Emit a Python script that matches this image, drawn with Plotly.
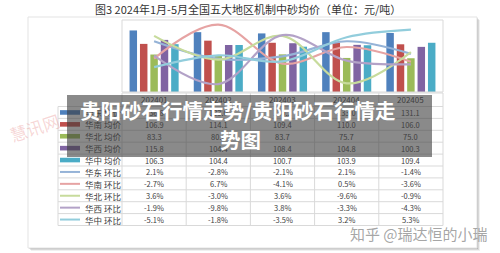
import plotly.graph_objects as go

# ---------------- data ----------------
categories = ["202401", "202402", "202403", "202404", "202405"]
regions = ["华东", "华南", "华北", "华西", "华中"]

avg_east = [136.8, 133.0, 130.2, 133.0, 131.1]
avg_south = [106.9, 114.1, 109.4, 110.0, 106.0]
avg_north = [83.3, 80.8, 83.7, 75.7, 75.0]
avg_west = [115.8, 104.4, 108.4, 104.8, 100.3]
avg_central = [106.3, 104.4, 100.7, 103.9, 109.4]

mom_east = [2.1, -2.8, -2.1, 2.1, -1.4]
mom_south = [-2.7, 6.7, -4.1, 0.5, -3.6]
mom_north = [3.6, -3.0, 3.6, -9.6, -0.9]
mom_west = [-1.9, -9.8, 3.8, -3.3, -4.3]
mom_central = [-5.1, -1.8, -3.5, 3.2, 5.3]

avg_series = [avg_east, avg_south, avg_north, avg_west, avg_central]
mom_series = [mom_east, mom_south, mom_north, mom_west, mom_central]

title_text = "图3 2024年1月-5月全国五大地区机制中砂均价（单位：元/吨）"
banner_line1 = "贵阳砂石行情走势/贵阳砂石行情走"
banner_line2 = "势图"
watermark = "知乎 @瑞达恒的小瑞"
watermark2 = "慧讯网"

bar_colors = ["#4F81BD", "#C0504D", "#9BBB59", "#8064A2", "#4BACC6"]
line_colors = ["#95B3D7", "#E6A3A3", "#C7DB9C", "#B3A2C7", "#92CDDC"]

W, H = 500, 253
def px(x):
    return x / W
def py(y):
    return 1 - y / H

# geometry (pixels)
PL, PR, PT, PB = 122, 443, 20, 92
COLW = (PR - PL) / len(categories)
TT = 93
HDR_B = 106.5
ROWH = 11.9
LEGL = 58

FONT = "Noto Sans CJK SC"

fig = go.Figure()

for name, vals, c in zip(regions, avg_series, bar_colors):
    fig.add_trace(go.Bar(x=categories, y=vals, name=name + " 均价", marker_color=c,
                         marker_line_width=0, yaxis="y"))
for name, vals, c in zip(regions, mom_series, line_colors):
    fig.add_trace(go.Scatter(x=categories, y=vals, name=name + " 环比", mode="lines",
                             line=dict(color=c, width=2.2, shape="spline", smoothing=1.0),
                             yaxis="y2"))

shapes = []
# chart box shadow + box
for off, col in [(3, "rgba(0,0,0,0.06)"), (2, "rgba(0,0,0,0.10)"), (1, "rgba(0,0,0,0.14)")]:
    shapes.append(dict(type="rect", xref="paper", yref="paper",
                       x0=px(28 + off), x1=px(477 + off), y0=py(248 + off), y1=py(17 + off),
                       fillcolor=col, line_width=0, layer="below"))
shapes.append(dict(type="rect", xref="paper", yref="paper",
                   x0=px(28), x1=px(477), y0=py(248), y1=py(17),
                   fillcolor="white", line=dict(color="#e3e3e3", width=1), layer="below"))
# plot area border
shapes.append(dict(type="rect", xref="paper", yref="paper",
                   x0=px(PL), x1=px(PR), y0=py(PB), y1=py(PT),
                   line=dict(color="#d9d9d9", width=1), layer="above"))

grid = dict(color="#d9d9d9", width=1)
nrows = 2 * len(regions)
TB = HDR_B + ROWH * nrows
# horizontal table lines
shapes.append(dict(type="line", xref="paper", yref="paper", x0=px(PL), x1=px(PR),
                   y0=py(TT), y1=py(TT), line=grid))
for r in range(nrows + 1):
    yy = HDR_B + r * ROWH
    shapes.append(dict(type="line", xref="paper", yref="paper", x0=px(LEGL), x1=px(PR),
                       y0=py(yy), y1=py(yy), line=grid))
# vertical table lines
shapes.append(dict(type="line", xref="paper", yref="paper", x0=px(LEGL), x1=px(LEGL),
                   y0=py(HDR_B), y1=py(TB), line=grid))
for k in range(len(categories) + 1):
    xx = PL + k * COLW
    shapes.append(dict(type="line", xref="paper", yref="paper", x0=px(xx), x1=px(xx),
                       y0=py(TT), y1=py(TB), line=grid))

annotations = []
txtcol = "#404040"
# header
for i, c in enumerate(categories):
    annotations.append(dict(xref="paper", yref="paper", x=px(PL + COLW * (i + 0.5)),
                            y=py((TT + HDR_B) / 2), text=c, showarrow=False,
                            font=dict(family=FONT, size=8, color=txtcol),
                            xanchor="center", yanchor="middle"))
# rows
rows = []
for name, vals, c in zip(regions, avg_series, bar_colors):
    rows.append((name + " 均价", [f"{v:.1f}" for v in vals], c, "bar"))
for name, vals, c in zip(regions, mom_series, line_colors):
    rows.append((name + " 环比", [f"{v:.1f}%" for v in vals], c, "line"))

for r, (label, texts, c, kind) in enumerate(rows):
    yc = HDR_B + ROWH * (r + 0.5)
    if kind == "bar":
        shapes.append(dict(type="rect", xref="paper", yref="paper",
                           x0=px(60), x1=px(80), y0=py(yc + 2.3), y1=py(yc - 2.3),
                           fillcolor=c, line_width=0))
    else:
        shapes.append(dict(type="line", xref="paper", yref="paper",
                           x0=px(60), x1=px(80), y0=py(yc), y1=py(yc),
                           line=dict(color=c, width=2)))
    annotations.append(dict(xref="paper", yref="paper", x=px(83), y=py(yc), text=label,
                            showarrow=False, font=dict(family=FONT, size=8.5, color=txtcol),
                            xanchor="left", yanchor="middle"))
    for i, t in enumerate(texts):
        annotations.append(dict(xref="paper", yref="paper", x=px(PL + COLW * (i + 0.5)),
                                y=py(yc), text=t, showarrow=False,
                                font=dict(family=FONT, size=7.5, color=txtcol),
                                xanchor="center", yanchor="middle"))

# title
annotations.append(dict(xref="paper", yref="paper", x=px(248), y=py(8.5), text=title_text,
                        showarrow=False, font=dict(family=FONT, size=11, color="#333333"),
                        xanchor="center", yanchor="middle"))

# faint watermark left
annotations.append(dict(xref="paper", yref="paper", x=px(34), y=py(127), text=watermark2,
                        showarrow=False, textangle=-18,
                        font=dict(family=FONT, size=17, color="rgba(225,110,110,0.28)"),
                        xanchor="center", yanchor="middle"))

# grey banner
shapes.append(dict(type="rect", xref="paper", yref="paper",
                   x0=px(67), x1=px(432), y0=py(157), y1=py(95),
                   fillcolor="rgba(60,60,60,0.6)", line_width=0, layer="above"))
annotations.append(dict(xref="paper", yref="paper", x=px(237), y=py(110), text="<b>" + banner_line1 + "</b>",
                        showarrow=False, font=dict(family=FONT, size=20.5, color="white"),
                        xanchor="center", yanchor="middle"))
annotations.append(dict(xref="paper", yref="paper", x=px(240), y=py(139), text="<b>" + banner_line2 + "</b>",
                        showarrow=False, font=dict(family=FONT, size=20.5, color="white"),
                        xanchor="center", yanchor="middle"))

# zhihu watermark
annotations.append(dict(xref="paper", yref="paper", x=px(419), y=py(233), text=watermark,
                        showarrow=False, font=dict(family=FONT, size=15, color="rgba(150,150,150,0.85)"),
                        xanchor="center", yanchor="middle"))

fig.update_layout(
    width=W, height=H,
    margin=dict(l=0, r=0, t=0, b=0),
    paper_bgcolor="white", plot_bgcolor="rgba(0,0,0,0)",
    showlegend=False,
    barmode="group", bargap=0.19, bargroupgap=0.28,
    xaxis=dict(domain=[px(PL), px(PR)], showticklabels=False, showgrid=False,
               zeroline=False, showline=False, type="category", range=[-0.5, 4.5]),
    yaxis=dict(domain=[py(PB), py(PT)], range=[0, 160], showticklabels=False,
               showgrid=False, zeroline=False, showline=False),
    yaxis2=dict(domain=[py(PB), py(PT)], range=[-12, 8], overlaying="y", side="right",
                showticklabels=False, showgrid=False, zeroline=False, showline=False),
    shapes=shapes,
    annotations=annotations,
)

fig.write_html("out.html")
